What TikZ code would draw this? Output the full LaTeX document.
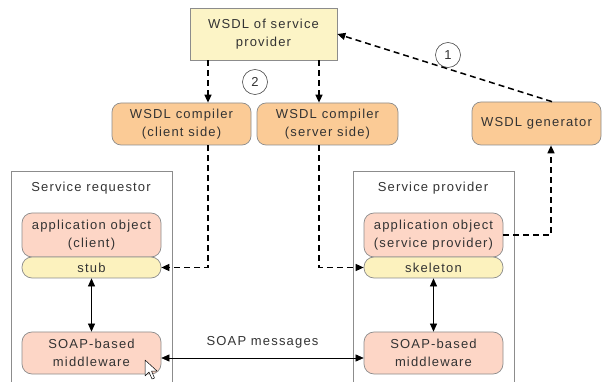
\documentclass[tikz,border=0pt]{standalone}
\usepackage{fontspec}
\setmainfont{Liberation Sans}[LetterSpace=9]
\usetikzlibrary{arrows.meta}
\definecolor{edgegray}{HTML}{8C8C8C}
\definecolor{txt}{HTML}{333333}
\definecolor{wsdlfill}{HTML}{FCF4C6}
\definecolor{compfill}{HTML}{FBCB96}
\definecolor{appfill}{HTML}{FDD6C6}
\definecolor{stubfill}{HTML}{FCF2BE}
\begin{document}
\begin{tikzpicture}[x=1pt,y=-1pt,
  font=\fontsize{13}{17.5}\selectfont,
  basebox/.style={draw=edgegray, line width=0.7pt, text=txt, align=center, inner sep=0pt},
  wsdlbox/.style={basebox, fill=wsdlfill},
  compbox/.style={basebox, fill=compfill, rounded corners=9pt},
  appbox/.style={basebox, fill=appfill, rounded corners=10pt, minimum width=139pt},
  stubbox/.style={basebox, fill=stubfill, rounded corners=10pt, minimum width=139pt, minimum height=21pt},
  frame/.style={draw=edgegray, line width=0.7pt},
  numcircle/.style={circle, draw=black!70, line width=0.6pt, minimum size=25pt, inner sep=0pt, text=txt},
  dasharrow/.style={line width=1.5pt, dash pattern=on 6pt off 4pt, -{Triangle[length=8pt,width=7pt]}},
  solidarrow/.style={line width=0.6pt, {Triangle[length=8pt,width=7pt]}-{Triangle[length=8pt,width=7pt]}},
  title/.style={text=txt}
]
\useasboundingbox (0,0) rectangle (603,382);

% top row
\node[wsdlbox, minimum width=147pt, minimum height=52pt] (wsdl) at (263.5,34) {WSDL of service\\provider};
\node[compbox, minimum width=139pt, minimum height=42pt] (cc) at (181.5,124) {WSDL compiler\\(client side)};
\node[compbox, minimum width=141pt, minimum height=42pt] (cs) at (327.5,124) {WSDL compiler\\(server side)};
\node[compbox, minimum width=129pt, minimum height=43pt] (gen) at (536.5,123.5) {WSDL generator};

\node[numcircle] (n2) at (255,82) {2};
\node[numcircle] (n1) at (448,55) {1};

% service requestor
\draw[frame] (11,382) |- (172,171) -- (172,382);
\node[title] (reqt) at (91,188) {Service requestor};
\node[appbox, minimum height=44pt] (appc) at (91.5,235) {application object\\(client)};
\node[stubbox] (stub) at (91.5,267.5) {stub};
\node[appbox, minimum height=42pt] (mwl) at (91.5,353) {SOAP-based\\middleware};

% service provider
\draw[frame] (353,382) |- (514,171) -- (514,382);
\node[title] (provt) at (433,188) {Service provider};
\node[appbox, minimum height=44pt] (appp) at (433.5,235) {application object\\(service provider)};
\node[stubbox] (skel) at (433.5,267.5) {skeleton};
\node[appbox, minimum height=42pt] (mwr) at (433.5,353) {SOAP-based\\middleware};

% generation and compilation
\draw[dasharrow] (gen.north -| 552,0) -- (wsdl.east);
\draw[dasharrow] (wsdl.south -| 208,0) -- (cc.north -| 208,0);
\draw[dasharrow] (wsdl.south -| 319,0) -- (cs.north -| 319,0);
\draw[dasharrow] (cc.south -| 208,0) |- (stub.east);
\draw[dasharrow] (cs.south -| 319,0) |- (skel.west);
\draw[dasharrow] (appp.east) -| (gen.south -| 551,0);

% runtime links
\draw[solidarrow] (stub.south) -- (mwl.north);
\draw[solidarrow] (skel.south) -- (mwr.north);
\draw[solidarrow] (mwl.east |- 0,358) -- node[above=6pt, text=txt] (soap) {SOAP messages} (mwr.west |- 0,358);

% mouse pointer
\draw[fill=white, line width=0.5pt, line join=round] (145,360) -- ++(0,16) -- ++(4,-4) -- ++(3,7) -- ++(2.5,-1) -- ++(-3,-7) -- ++(5.5,0) -- cycle;
\end{tikzpicture}
\end{document}
